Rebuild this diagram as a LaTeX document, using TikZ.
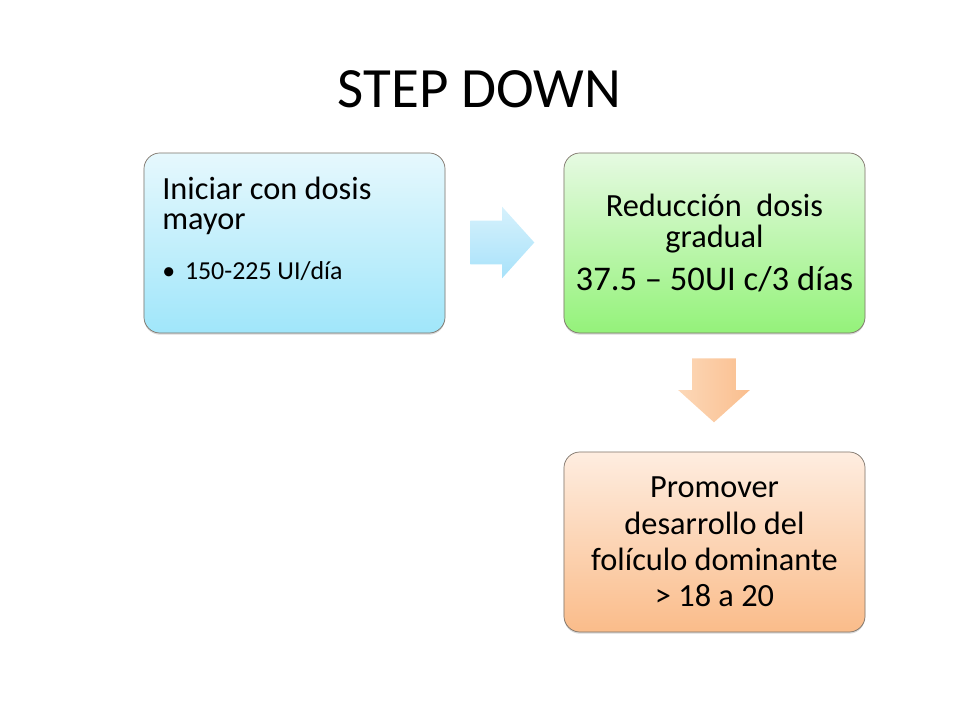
\documentclass[tikz,border=0pt]{standalone}
\usepackage{fontspec}
\setmainfont{Carlito}
\usetikzlibrary{shapes.arrows,shadows}
\definecolor{blue_top}{RGB}{230, 248, 253}
\definecolor{blue_bot}{RGB}{160, 230, 250}
\definecolor{green_top}{RGB}{230, 250, 226}
\definecolor{green_bot}{RGB}{148, 242, 122}
\definecolor{orange_top}{RGB}{254, 237, 224}
\definecolor{orange_bot}{RGB}{250, 188, 138}
\definecolor{arr_blue_top}{RGB}{214, 241, 252}
\definecolor{arr_blue_bot}{RGB}{168, 226, 250}
\definecolor{arr_orange_top}{RGB}{252, 216, 184}
\definecolor{arr_orange_bot}{RGB}{250, 190, 142}
\definecolor{box_line}{RGB}{125, 115, 105}
\tikzstyle{box}=[rectangle,rounded corners=0.4cm,draw=box_line,line width=0.5pt,
  minimum width=7.525cm,minimum height=4.5cm,inner sep=0pt,align=center,
  drop shadow={shadow xshift=0pt,shadow yshift=-1.2pt,opacity=0.3}]
\tikzstyle{bn}=[style=box,top color=blue_top,bottom color=blue_bot]
\tikzstyle{gn}=[style=box,top color=green_top,bottom color=green_bot]
\tikzstyle{on}=[style=box,top color=orange_top,bottom color=orange_bot]
\tikzstyle{arr}=[single arrow,single arrow head extend=0.35cm,single arrow tip angle=96,
  single arrow head indent=0pt,minimum height=1.6cm,inner xsep=0pt,inner ysep=0.5375cm,
  anchor=tail]

\begin{document}
\begin{tikzpicture}[x=0.025cm,y=-0.025cm]
        \useasboundingbox (0,0) rectangle (960,720);
        \node[anchor=base,font=\fontsize{40.5}{48}\selectfont] (title) at (479.5,108) {STEP DOWN};
        \node[style=bn] (1) at (294.5,243) {};
        \node[anchor=north west,inner sep=0pt,align=left,font=\fontsize{23}{21.3}\selectfont] (1a) at (162,177)
          {Iniciar con dosis\\mayor\\[14pt]
           {\fontsize{18.4}{21.3}\selectfont\textbullet\hspace{7pt}150-225 UI/día}};
        \node[style=gn,font=\fontsize{23}{22}\selectfont] (2) at (714.5,243)
          {Reducción~ dosis\\gradual\\[9pt]
           {\fontsize{24.6}{22}\selectfont 37.5 – 50UI c/3 días}};
        \node[style=on,font=\fontsize{23}{25.8}\selectfont] (3) at (714.5,542)
          {Promover\\desarrollo del\\folículo dominante\\> 18 a 20};
        \node[style=arr,top color=arr_blue_top,bottom color=arr_blue_bot] (r) at (470,242.5) {};
        \node[style=arr,rotate=-90,left color=arr_orange_top,right color=arr_orange_bot] (d) at (714,358) {};
    \end{tikzpicture}
\end{document}
